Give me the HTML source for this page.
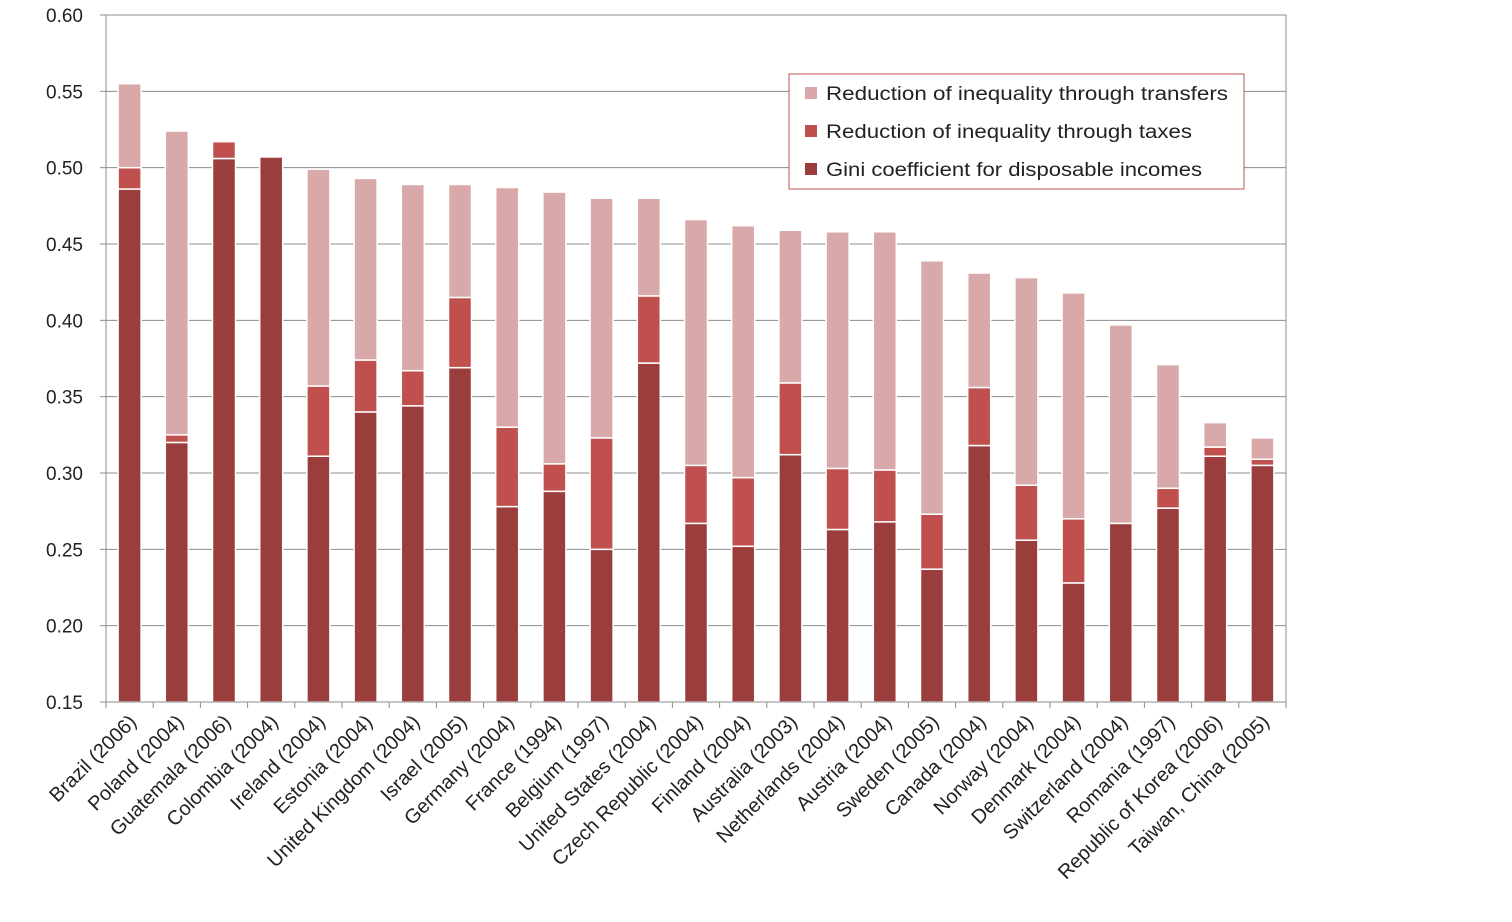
<!DOCTYPE html>
<html><head><meta charset="utf-8"><style>
body{margin:0;background:#fff;}
svg{display:block;font-family:"Liberation Sans",Arial,sans-serif;}
</style></head><body>
<svg id="chart" width="1512" height="922" xmlns="http://www.w3.org/2000/svg">
<g id="grid"></g>
<g id="bars"></g>
<g id="axes"></g>
<g>
<rect x="789" y="74" width="455" height="115" fill="#fff" stroke="#c0504d" stroke-width="1"/>
<rect x="805" y="87" width="12" height="12" fill="#d9a9a9"/>
<text x="826" y="100" font-size="19" fill="#222" textLength="402" lengthAdjust="spacingAndGlyphs">Reduction of inequality through transfers</text>
<rect x="805" y="125" width="12" height="12" fill="#c0504d"/>
<text x="826" y="138" font-size="19" fill="#222" textLength="366" lengthAdjust="spacingAndGlyphs">Reduction of inequality through taxes</text>
<rect x="805" y="163" width="12" height="12" fill="#9b3d3d"/>
<text x="826" y="176" font-size="19" fill="#222" textLength="376" lengthAdjust="spacingAndGlyphs">Gini coefficient for disposable incomes</text>
</g>
</svg>
<script>
const categories=["Brazil (2006)","Poland (2004)","Guatemala (2006)","Colombia (2004)","Ireland (2004)","Estonia (2004)","United Kingdom (2004)","Israel (2005)","Germany (2004)","France (1994)","Belgium (1997)","United States (2004)","Czech Republic (2004)","Finland (2004)","Australia (2003)","Netherlands (2004)","Austria (2004)","Sweden (2005)","Canada (2004)","Norway (2004)","Denmark (2004)","Switzerland (2004)","Romania (1997)","Republic of Korea (2006)","Taiwan, China (2005)"];
const gini=[0.486,0.320,0.506,0.507,0.311,0.340,0.344,0.369,0.278,0.288,0.250,0.372,0.267,0.252,0.312,0.263,0.268,0.237,0.318,0.256,0.228,0.267,0.277,0.311,0.305];
const taxes=[0.014,0.005,0.011,0.000,0.046,0.034,0.023,0.046,0.052,0.018,0.073,0.044,0.038,0.045,0.047,0.040,0.034,0.036,0.038,0.036,0.042,0.000,0.013,0.006,0.004];
const transfers=[0.055,0.199,0.000,0.000,0.142,0.119,0.122,0.074,0.157,0.178,0.157,0.064,0.161,0.165,0.100,0.155,0.156,0.166,0.075,0.136,0.148,0.130,0.081,0.016,0.014];
const yTicks=[0.15,0.20,0.25,0.30,0.35,0.40,0.45,0.50,0.55,0.60];
const NS="http://www.w3.org/2000/svg";
const X0=106,X1=1286,Y0=702,Y1=15,ymin=0.15,ymax=0.60;
const step=(X1-X0)/categories.length,bw=23;
function y(v){return Y0-(v-ymin)/(ymax-ymin)*(Y0-Y1);}
function xc(i){return X0+step*(i+0.5);}
function mk(tag,attrs,parent){const e=document.createElementNS(NS,tag);for(const k in attrs)e.setAttribute(k,attrs[k]);parent.appendChild(e);return e;}
const grid=document.getElementById('grid'),bars=document.getElementById('bars'),axes=document.getElementById('axes');
yTicks.forEach(t=>{
 if(t>ymin){const l=mk('line',{x1:X0,x2:X1,y1:y(t),y2:y(t),stroke:'#8c8c8c','stroke-width':1},grid);
 
 }
 const tx=mk('text',{x:83,y:y(t)+7,'font-size':19,'text-anchor':'end',fill:'#222'},axes);
 tx.textContent=t.toFixed(2);
 
 
 mk('line',{x1:X0-6,x2:X0,y1:y(t),y2:y(t),stroke:'#8c8c8c'},axes);
});
mk('line',{x1:X1,x2:X1,y1:Y1,y2:Y0,stroke:'#8c8c8c'},grid);
categories.forEach((c,i)=>{
 const x=xc(i)-bw/2;
 const segs=[[ymin,gini[i],'#9b3d3d','bar-gini'],[gini[i],gini[i]+taxes[i],'#c0504d','bar-taxes'],[gini[i]+taxes[i],gini[i]+taxes[i]+transfers[i],'#d9a9a9','bar-transfers']];
 segs.forEach(s=>{
  if(s[1]-s[0]<=0)return;
  const r=mk('rect',{x:x,y:y(s[1]),width:bw,height:y(s[0])-y(s[1]),fill:s[2],stroke:'#fff','stroke-width':1.5},bars);
  
  
 });
 const tk=X0+step*i;
 mk('line',{x1:tk,x2:tk,y1:Y0,y2:Y0+6,stroke:'#8c8c8c'},axes);
 const t=mk('text',{x:xc(i)+8,y:Y0+21,'font-size':20,'text-anchor':'end',fill:'#222',transform:`rotate(-45 ${xc(i)+8} ${Y0+21})`},axes);
 t.textContent=c;
 
 
});
mk('line',{x1:X1,x2:X1,y1:Y0,y2:Y0+6,stroke:'#8c8c8c'},axes);
mk('line',{x1:X0,x2:X0,y1:Y1,y2:Y0,stroke:'#8c8c8c'},axes);
mk('line',{x1:X0,x2:X1,y1:Y0,y2:Y0,stroke:'#8c8c8c'},axes);
</script>
</body></html>
